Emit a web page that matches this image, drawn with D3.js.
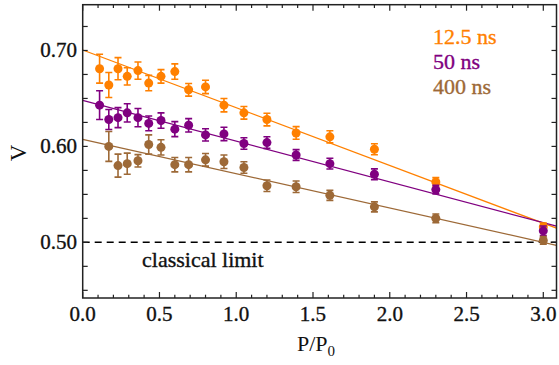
<!DOCTYPE html>
<html lang="en">
<head>
<meta charset="UTF-8">
<style>
    body {margin: 0; background: #fff;}
    svg text {font-family: "Liberation Serif", serif; fill: #111; stroke-width: 0.35px;}
</style>
</head>
<body>
<div id="chart"></div>
<script src="https://d3js.org/d3.v7.min.js"></script>
<script>
// pump power ratio P/P0 for each measurement
var xVals = [0.11, 0.17, 0.23, 0.29, 0.36, 0.43, 0.51, 0.60, 0.69, 0.80, 0.92, 1.05, 1.20, 1.39, 1.61, 1.90, 2.30, 3.00];
var xValsLong = xVals.slice(1);   // 400 ns series starts at the second point

// visibility V and error bars
var v125 = [0.681, 0.664, 0.681, 0.673, 0.679, 0.666, 0.673, 0.678, 0.659, 0.662, 0.643, 0.635, 0.628, 0.614, 0.610, 0.597, 0.563, 0.516];
var e125 = [0.015, 0.013, 0.0115, 0.009, 0.009, 0.008, 0.007, 0.008, 0.0066, 0.007, 0.007, 0.0066, 0.0066, 0.0066, 0.0063, 0.0057, 0.0045, 0.004];
var v50 = [0.643, 0.628, 0.630, 0.635, 0.630, 0.624, 0.627, 0.618, 0.622, 0.612, 0.613, 0.603, 0.604, 0.591, 0.582, 0.571, 0.555, 0.512];
var e50 = [0.015, 0.0104, 0.0104, 0.0095, 0.0095, 0.0077, 0.008, 0.0078, 0.007, 0.0064, 0.007, 0.006, 0.006, 0.0056, 0.0056, 0.0056, 0.0045, 0.005];
var v400 = [0.600, 0.580, 0.582, 0.585, 0.602, 0.599, 0.581, 0.581, 0.586, 0.584, 0.578, 0.559, 0.558, 0.549, 0.537, 0.525, 0.502];
var e400 = [0.0156, 0.012, 0.011, 0.0064, 0.010, 0.008, 0.0075, 0.0075, 0.0066, 0.007, 0.006, 0.006, 0.006, 0.0052, 0.0052, 0.0045, 0.004];

// linear fits V = a + b*P/P0
var fitA = [0.7005, 0.648, 0.6074];
var fitB = [-0.0602, -0.0425, -0.0358];

var seriesNames = ["12.5 ns", "50 ns", "400 ns"];
var seriesColors = ["#ff8000", "#800080", "#9d6937"];

var yTickLabels = [0.50, 0.60, 0.70];
var xTickLabels = [0.0, 0.5, 1.0, 1.5, 2.0, 2.5, 3.0];
var classicalLimit = 0.50;

var W = 559, H = 365;
var pLeft = 82.7, pRight = 556.5, pTop = 4.7, pBottom = 298;

var svg = d3.select("#chart").append("svg")
    .attr("width", W)
    .attr("height", H);

var x = d3.scaleLinear().domain([0, 3.086]).range([pLeft, pRight]);
var y = d3.scaleLinear().domain([0.442, 0.7477]).range([pBottom, pTop]);

var series = [
    {name: seriesNames[0], color: seriesColors[0], xs: xVals, vs: v125, es: e125, a: fitA[0], b: fitB[0]},
    {name: seriesNames[1], color: seriesColors[1], xs: xVals, vs: v50, es: e50, a: fitA[1], b: fitB[1]},
    {name: seriesNames[2], color: seriesColors[2], xs: xValsLong, vs: v400, es: e400, a: fitA[2], b: fitB[2]}
];

var plot = svg.append("g");

// fit lines
var xMax = x.domain()[1];
series.forEach(function (s) {
    plot.append("line")
        .attr("x1", x(0)).attr("y1", y(s.a))
        .attr("x2", x(xMax)).attr("y2", y(s.a + s.b * xMax))
        .attr("stroke", s.color)
        .attr("stroke-width", 1.3);
});

// classical limit
plot.append("line")
    .attr("x1", x(0)).attr("x2", x(xMax))
    .attr("y1", y(classicalLimit)).attr("y2", y(classicalLimit))
    .attr("stroke", "#000")
    .attr("stroke-width", 1.5)
    .attr("stroke-dasharray", "7,5");

// points with error bars
series.forEach(function (s) {
    var g = plot.append("g");
    var pts = s.xs.map(function (d, i) { return {x: d, v: s.vs[i], e: s.es[i]}; });
    var cap = 3.5;
    g.selectAll(".eb").data(pts).enter().append("path")
        .attr("d", function (d) {
            var cx = x(d.x), y1 = y(d.v + d.e), y2 = y(d.v - d.e);
            return "M" + cx + "," + y1 + "V" + y2 +
                "M" + (cx - cap) + "," + y1 + "H" + (cx + cap) +
                "M" + (cx - cap) + "," + y2 + "H" + (cx + cap);
        })
        .attr("fill", "none")
        .attr("stroke", s.color)
        .attr("stroke-width", 1.6);
    g.selectAll("circle").data(pts).enter().append("circle")
        .attr("cx", function (d) { return x(d.x); })
        .attr("cy", function (d) { return y(d.v); })
        .attr("r", 4.5)
        .attr("fill", s.color);
});

// frame
svg.append("rect")
    .attr("x", pLeft).attr("y", pTop)
    .attr("width", pRight - pLeft).attr("height", pBottom - pTop)
    .attr("fill", "none")
    .attr("stroke", "#222")
    .attr("stroke-width", 1.5);

// ticks on all four sides, pointing inwards
var xMinor = d3.range(0, 31).map(function (i) { return i / 10; });
var yMinor = d3.range(18, 30).map(function (i) { return i * 0.025; });

function isMajorX(t) { return Math.abs(t * 2 - Math.round(t * 2)) < 1e-6; }

var ticks = svg.append("g").attr("stroke", "#222").attr("stroke-width", 1.2);
xMinor.forEach(function (t) {
    var len = isMajorX(t) ? 6 : 3.3;
    ticks.append("line").attr("x1", x(t)).attr("x2", x(t)).attr("y1", pBottom).attr("y2", pBottom - len);
    ticks.append("line").attr("x1", x(t)).attr("x2", x(t)).attr("y1", pTop).attr("y2", pTop + len);
});
yMinor.forEach(function (t) {
    ticks.append("line").attr("x1", pLeft).attr("x2", pLeft + 5).attr("y1", y(t)).attr("y2", y(t));
    ticks.append("line").attr("x1", pRight).attr("x2", pRight - 5).attr("y1", y(t)).attr("y2", y(t));
});

// tick labels
svg.selectAll(".xl").data(xTickLabels).enter().append("text")
    .attr("x", function (d) { return x(d); })
    .attr("y", 321)
    .attr("text-anchor", "middle")
    .style("font-size", "21px")
    .style("stroke", "#111")
    .text(function (d) { return d.toFixed(1); });

svg.selectAll(".yl").data(yTickLabels).enter().append("text")
    .attr("x", 77)
    .attr("y", function (d) { return y(d) + 7; })
    .attr("text-anchor", "end")
    .style("font-size", "21px")
    .style("stroke", "#111")
    .text(function (d) { return d.toFixed(2); });

// axis titles
var xt = svg.append("text")
    .attr("x", 316).attr("y", 351)
    .attr("text-anchor", "middle")
    .style("font-size", "22px");
xt.append("tspan").text("P/P");
xt.append("tspan").attr("dy", 5).style("font-size", "15px").text("0");

svg.append("text")
    .attr("transform", "translate(26,153) rotate(-90)")
    .attr("text-anchor", "middle")
    .style("font-size", "23px")
    .text("V");

// classical limit label
svg.append("text")
    .attr("x", 142).attr("y", 267)
    .style("font-size", "22px")
    .style("stroke", "#111")
    .text("classical limit");

// legend
svg.selectAll(".lg").data(series).enter().append("text")
    .attr("x", 433)
    .attr("y", function (d, i) { return 43.5 + i * 25; })
    .style("font-size", "22px")
    .style("fill", function (d) { return d.color; })
    .style("stroke", function (d) { return d.color; })
    .text(function (d) { return d.name; });
</script>
</body>
</html>
